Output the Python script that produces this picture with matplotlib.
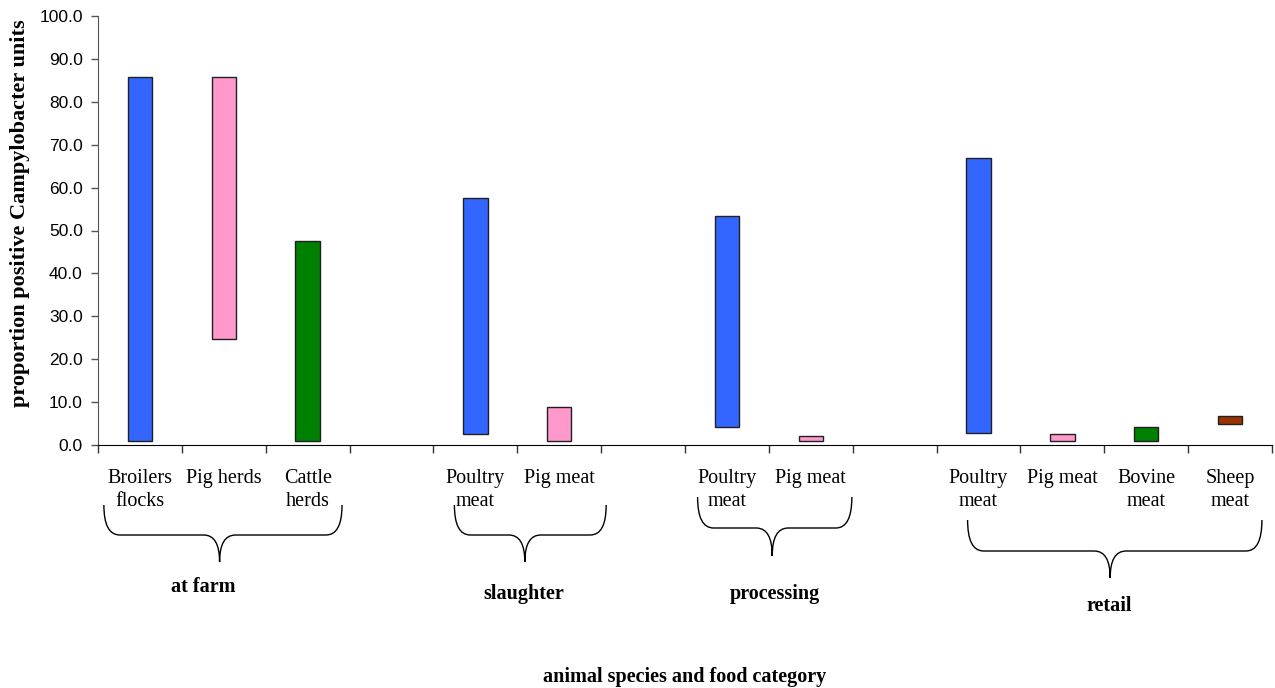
import matplotlib
matplotlib.use("Agg")
import matplotlib.pyplot as plt
from matplotlib.path import Path
from matplotlib.patches import PathPatch
from matplotlib.transforms import blended_transform_factory
from matplotlib.ticker import FixedLocator, NullFormatter, FixedFormatter

# Category slots along the x axis (empty strings are spacer slots)
categories = ["Broilers\nflocks", "Pig herds", "Cattle\nherds", "",
              "Poultry\nmeat", "Pig meat", "",
              "Poultry\nmeat", "Pig meat", "",
              "Poultry\nmeat", "Pig meat", "Bovine\nmeat", "Sheep\nmeat"]

# Range of proportion positive (min, max) for each plotted category slot
bar_slots = [0, 1, 2, 4, 5, 7, 8, 10, 11, 12, 13]
range_low = [1.0, 24.7, 1.0, 2.6, 1.0, 4.3, 1.0, 2.8, 1.0, 1.0, 4.9]
range_high = [85.7, 85.7, 47.5, 57.5, 8.8, 53.3, 2.0, 67.0, 2.6, 4.1, 6.8]
bar_colors = ["#3366FF", "#FF99CC", "#008000", "#3366FF", "#FF99CC",
              "#3366FF", "#FF99CC", "#3366FF", "#FF99CC", "#008000", "#993300"]

# Production stage groups
stage_names = ["at farm", "slaughter", "processing", "retail"]

y_ticks = [0, 10, 20, 30, 40, 50, 60, 70, 80, 90, 100]

W, H = 1275, 688
fig = plt.figure(figsize=(W / 100, H / 100), dpi=100)
ax = fig.add_axes([98 / W, 1 - 445 / H, (1272 - 98) / W, (445 - 16) / H])

heights = [h - l for l, h in zip(range_low, range_high)]
ax.bar(bar_slots, heights, bottom=range_low, width=0.29, color=bar_colors,
       edgecolor="#202020", linewidth=1.0, zorder=3)

ax.set_xlim(-0.5, len(categories) - 0.5)
ax.set_ylim(0, 100)

# y axis
ax.set_yticks(y_ticks)
ax.set_yticklabels([f"{v:.1f}" for v in y_ticks], family="Liberation Sans",
                   fontsize=12.5)
ax.tick_params(axis="y", direction="out", length=5, width=1, color="#555555",
               pad=6)

# x axis: boundary ticks, labels centred on the slots
ax.xaxis.set_major_locator(FixedLocator([i - 0.5 for i in range(len(categories) + 1)]))
ax.xaxis.set_major_formatter(NullFormatter())
ax.xaxis.set_minor_locator(FixedLocator(list(range(len(categories)))))
ax.xaxis.set_minor_formatter(FixedFormatter(categories))
ax.tick_params(axis="x", which="major", direction="out", length=6, width=1,
               color="#333333")
ax.tick_params(axis="x", which="minor", length=0, pad=17)
for lbl in ax.get_xticklabels(minor=True):
    lbl.set_family("Liberation Serif")
    lbl.set_fontsize(14.5)
    lbl.set_verticalalignment("top")
    lbl.set_linespacing(1.3)

for side in ("top", "right"):
    ax.spines[side].set_visible(False)
ax.spines["left"].set_color("#555555")
ax.spines["bottom"].set_color("black")

fig.text(20 / W, 1 - 213 / H, "proportion positive Campylobacter units",
         rotation=90, ha="center", va="center", family="Liberation Serif",
         fontweight="bold", fontsize=16)

# Curly braces under each stage group (x in data units, y in axes fraction)
trans = blended_transform_factory(ax.transData, ax.transAxes)
axh = 445 - 16


def ypx(p):
    return (445 - p) / axh


def brace(x0, x1, xm, top, mid, tip, dx=0.19):
    yt, ym, yp = ypx(top), ypx(mid), ypx(tip)
    verts = [(x0, yt), (x0, ym), (x0 + dx, ym),
             (xm - dx, ym),
             (xm, ym), (xm, yp),
             (xm, ym), (xm + dx, ym),
             (x1 - dx, ym),
             (x1, ym), (x1, yt)]
    codes = [Path.MOVETO, Path.CURVE3, Path.CURVE3,
             Path.LINETO,
             Path.CURVE3, Path.CURVE3,
             Path.CURVE3, Path.CURVE3,
             Path.LINETO,
             Path.CURVE3, Path.CURVE3]
    patch = PathPatch(Path(verts, codes), transform=trans, fill=False,
                      edgecolor="black", linewidth=1.0, clip_on=False)
    ax.add_patch(patch)


brace_specs = [
    (-0.43, 2.41, 0.95, 505, 535, 562),
    (3.75, 5.56, 4.59, 505, 535, 562),
    (6.65, 8.49, 7.54, 497, 528, 556),
    (9.87, 13.38, 11.57, 520, 551, 578),
]
for spec in brace_specs:
    brace(*spec)

stage_label_pos = [(0.76, 587), (4.58, 594), (7.57, 594), (11.56, 606)]
for name, (sx, sy) in zip(stage_names, stage_label_pos):
    ax.text(sx, ypx(sy), name, transform=trans, ha="center", va="center",
            family="Liberation Serif", fontweight="bold", fontsize=14.5)

ax.text(0.5, ypx(677), "animal species and food category", transform=ax.transAxes,
        ha="center", va="center", family="Liberation Serif", fontweight="bold",
        fontsize=14.5)

fig.savefig("out.png", dpi=100)
